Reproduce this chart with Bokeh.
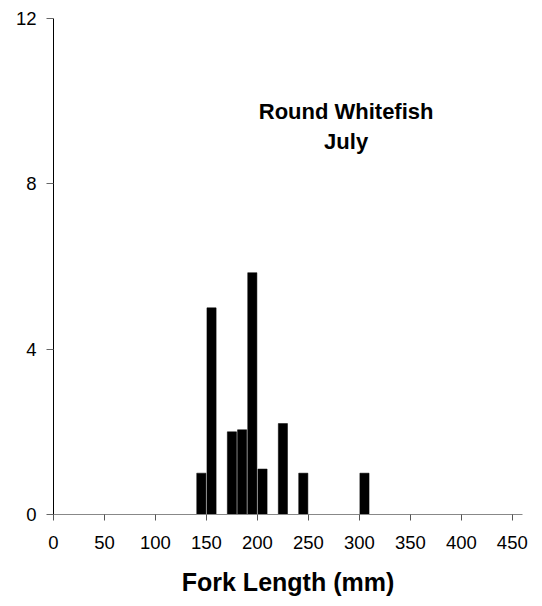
from bokeh.plotting import figure
from bokeh.models import Range1d, FixedTicker, Label
from bokeh.embed import file_html
from bokeh.resources import INLINE

# Data
bin_centers = [145, 155, 175, 185, 195, 205, 225, 245, 305]
counts = [1, 5, 2, 2.05, 5.85, 1.1, 2.2, 1, 1]
x_ticks = [0, 50, 100, 150, 200, 250, 300, 350, 400, 450]
y_ticks = [0, 4, 8, 12]
title_lines = ["Round Whitefish", "July"]
x_label = "Fork Length (mm)"

FONT = "Liberation Sans"

p = figure(width=542, height=606, output_backend="svg", toolbar_location=None,
           x_range=Range1d(0, 460), y_range=Range1d(0, 12),
           min_border_left=53, min_border_right=20, min_border_top=18, min_border_bottom=92)
p.outline_line_color = None
p.xgrid.visible = False
p.ygrid.visible = False
p.background_fill_color = "white"
p.border_fill_color = "white"

p.vbar(x=bin_centers, top=counts, bottom=0, width=9, fill_color="black", line_color="black", line_width=0.5)

xa = p.xaxis[0]
xa.ticker = FixedTicker(ticks=x_ticks)
xa.axis_line_color = "#888888"
xa.major_tick_line_color = "#555555"
xa.major_tick_in = 0
xa.major_tick_out = 6
xa.minor_tick_line_color = None
xa.major_label_text_font = FONT
xa.major_label_text_font_size = "18.5px"
xa.major_label_text_color = "black"
xa.major_label_standoff = 15
xa.axis_label = x_label
xa.axis_label_text_font = FONT
xa.axis_label_text_font_style = "bold"
xa.axis_label_text_font_size = "25px"
xa.axis_label_text_color = "black"
xa.axis_label_standoff = 16

ya = p.yaxis[0]
ya.ticker = FixedTicker(ticks=y_ticks)
ya.axis_line_color = "black"
ya.major_tick_line_color = "#666666"
ya.major_tick_in = 0
ya.major_tick_out = 7
ya.minor_tick_line_color = None
ya.major_label_text_font = FONT
ya.major_label_text_font_size = "18.5px"
ya.major_label_text_color = "black"
ya.major_label_standoff = 10

for txt, yv in zip(title_lines, [9.75, 9.03]):
    p.add_layout(Label(x=287, y=yv, text=txt, text_align="center", text_baseline="alphabetic",
                       text_font=FONT, text_font_style="bold", text_font_size="22px",
                       text_color="black"))

open("out.html", "w").write(file_html(p, INLINE))
